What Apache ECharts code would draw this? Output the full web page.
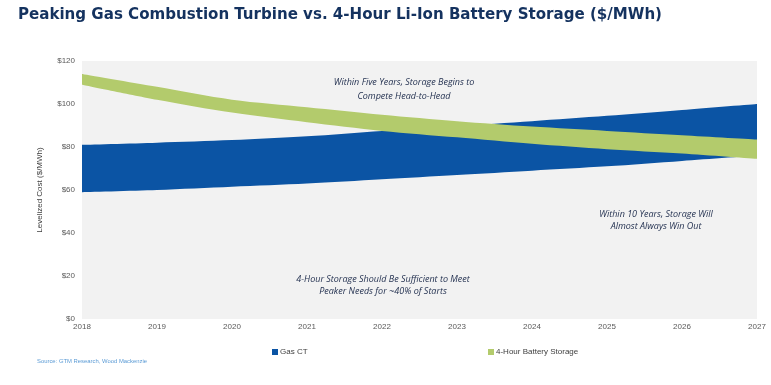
<!DOCTYPE html>
<html><head><meta charset="utf-8">
<script src="https://cdn.jsdelivr.net/npm/echarts@6/dist/echarts.min.js"></script>
<style>html,body{margin:0;padding:0;background:#fff}#c{width:771px;height:385px}</style>
</head><body><div id="c"></div>
<script>
var years = ['2018','2019','2020','2021','2022','2023','2024','2025','2026','2027'];
var gasLow  = [59, 60, 61.5, 63, 65, 67, 69, 71, 73.5, 76];
var gasHigh = [81, 82, 83.2, 85, 87.5, 89.7, 92, 94.5, 97.2, 100];
var batLow  = [109, 102, 96, 91.5, 87.5, 84.5, 81.5, 79, 77, 74.5];
var batHigh = [114, 108, 102, 98.5, 95, 92, 89.5, 87.5, 85.5, 83.5];
var yTicks = [0, 20, 40, 60, 80, 100, 120];
var titleText = 'Peaking Gas Combustion Turbine vs. 4-Hour Li-Ion Battery Storage ($/MWh)';
var sourceText = 'Source: GTM Research, Wood Mackenzie';

var gasBand = gasHigh.map(function(v,i){return +(v-gasLow[i]).toFixed(2);});
var batBand = batHigh.map(function(v,i){return +(v-batLow[i]).toFixed(2);});
var BLUE = '#0b54a4', GREEN = '#b3cb6c';
var labelFont = 'Liberation Sans Narrow, Liberation Sans, sans-serif';

function measure(text, font){
  var ctx = document.createElement('canvas').getContext('2d');
  ctx.font = font; return ctx.measureText(text).width;
}
var titleFont = 'bold 16px "DejaVu Sans Condensed", sans-serif';
var titleScale = 644 / measure(titleText, titleFont);
var srcFont = '6px "Liberation Sans", sans-serif';
var srcScale = 110 / measure(sourceText, srcFont);

var chart = echarts.init(document.getElementById('c'));
chart.setOption({
  animation: false,
  grid: {left: 82, right: 14, top: 61, bottom: 66, show: true, backgroundColor: '#f2f2f2', borderWidth: 0},
  legend: [
    {left: 272, top: 348, padding: 0, itemWidth: 6, itemHeight: 6, itemGap: 4, icon: 'rect', data: ['Gas CT'],
     textStyle: {fontSize: 8, color: '#404040', fontFamily: labelFont, padding: [0,0,0,-3]}},
    {left: 488, top: 348, padding: 0, itemWidth: 6, itemHeight: 6, itemGap: 4, icon: 'rect', data: ['4-Hour Battery Storage'],
     textStyle: {fontSize: 8, color: '#404040', fontFamily: labelFont, padding: [0,0,0,-3]}}
  ],
  xAxis: {
    type: 'category', data: years, boundaryGap: false,
    axisLine: {show: false}, axisTick: {show: false},
    axisLabel: {fontSize: 8, color: '#595959', fontFamily: labelFont, margin: 4}
  },
  yAxis: {
    type: 'value', min: 0, max: 120, interval: 20,
    name: 'Levelized Cost ($/MWh)', nameLocation: 'middle', nameGap: 38, nameRotate: 90,
    nameTextStyle: {fontSize: 8, color: '#404040', fontFamily: labelFont},
    axisLine: {show: false}, axisTick: {show: false}, splitLine: {show: false},
    axisLabel: {fontSize: 8, color: '#595959', fontFamily: labelFont, margin: 7,
      formatter: function(v){ return yTicks.indexOf(v) >= 0 ? '$' + v : ''; }}
  },
  series: [
    {name: 'gasBase', type: 'line', stack: 'gas', data: gasLow, symbol: 'none', smooth: 0.3,
     lineStyle: {opacity: 0}, silent: true},
    {name: 'Gas CT', type: 'line', stack: 'gas', data: gasBand, symbol: 'none', smooth: 0.3,
     lineStyle: {opacity: 0}, areaStyle: {color: BLUE, opacity: 1}, itemStyle: {color: BLUE}},
    {name: 'batBase', type: 'line', stack: 'bat', data: batLow, symbol: 'none', smooth: 0.3,
     lineStyle: {opacity: 0}, silent: true},
    {name: '4-Hour Battery Storage', type: 'line', stack: 'bat', data: batBand, symbol: 'none', smooth: 0.3,
     lineStyle: {opacity: 0}, areaStyle: {color: GREEN, opacity: 1}, itemStyle: {color: GREEN}}
  ],
  graphic: [
    {type: 'text', x: 18, y: 7, scaleX: titleScale, style: {text: titleText, x: 0, y: 0, font: titleFont, fill: '#14325f'}},
    {type: 'text', style: {text: 'Within Five Years, Storage Begins to\nCompete Head-to-Head', x: 404, y: 75, align: 'center', font: 'italic 9px "Open Sans", sans-serif', fill: '#1f2d4d', lineHeight: 14}},
    {type: 'text', style: {text: 'Within 10 Years, Storage Will\nAlmost Always Win Out', x: 656, y: 208, align: 'center', font: 'italic 9px "Open Sans", sans-serif', fill: '#1f2d4d', lineHeight: 12}},
    {type: 'text', style: {text: '4-Hour Storage Should Be Sufficient to Meet\nPeaker Needs for ~40% of Starts', x: 383, y: 273, align: 'center', font: 'italic 9px "Open Sans", sans-serif', fill: '#1f2d4d', lineHeight: 12}},
    {type: 'text', x: 37, y: 358, scaleX: srcScale, style: {text: sourceText, x: 0, y: 0, font: srcFont, fill: '#5b9bd5'}}
  ]
});
</script></body></html>
